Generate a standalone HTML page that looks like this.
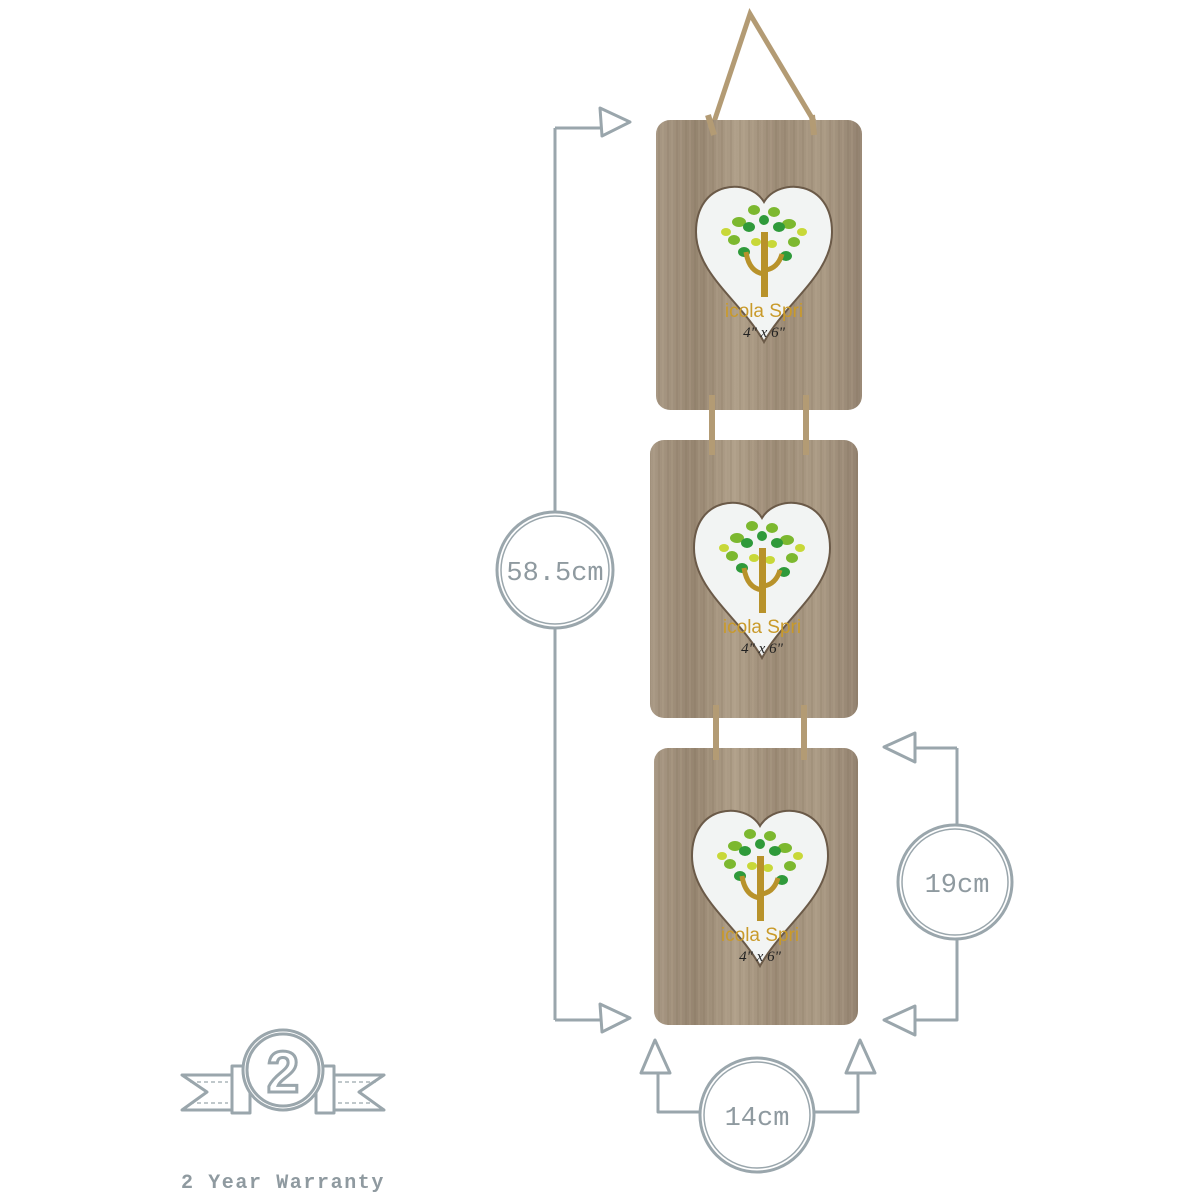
<!DOCTYPE html>
<html><head><style>
html,body{margin:0;padding:0;background:#fff;width:1200px;height:1200px;overflow:hidden}
</style></head><body>
<svg width="1200" height="1200" viewBox="0 0 1200 1200" xmlns="http://www.w3.org/2000/svg">
<defs>
<linearGradient id="wood" x1="0" y1="0" x2="1" y2="0">
<stop offset="0" stop-color="#a89884"/><stop offset="0.2" stop-color="#968570"/><stop offset="0.4" stop-color="#b0a08a"/><stop offset="0.6" stop-color="#9c8b76"/><stop offset="0.8" stop-color="#ab9b85"/><stop offset="1" stop-color="#938270"/>
</linearGradient>
<pattern id="grain" width="9" height="40" patternUnits="userSpaceOnUse">
<line x1="2" y1="0" x2="2" y2="40" stroke="#7a6852" stroke-width="1" opacity="0.3"/><line x1="6" y1="0" x2="6" y2="40" stroke="#c4b39a" stroke-width="1" opacity="0.3"/>
</pattern>
<g id="heart">
<path d="M0,-60 C-15,-85 -68,-82 -68,-30 C-68,12 -22,40 0,80 C22,40 68,12 68,-30 C68,-82 15,-85 0,-60Z" fill="#f2f4f3" stroke="#6b5a48" stroke-width="2"/>
<g fill="#7cb82f"><ellipse cx="-25" cy="-40" rx="7" ry="5"/><ellipse cx="-10" cy="-52" rx="6" ry="5"/><ellipse cx="10" cy="-50" rx="6" ry="5"/><ellipse cx="25" cy="-38" rx="7" ry="5"/><ellipse cx="-30" cy="-22" rx="6" ry="5"/><ellipse cx="30" cy="-20" rx="6" ry="5"/></g>
<g fill="#2f9a3a"><ellipse cx="-15" cy="-35" rx="6" ry="5"/><ellipse cx="15" cy="-35" rx="6" ry="5"/><ellipse cx="0" cy="-42" rx="5" ry="5"/><ellipse cx="-20" cy="-10" rx="6" ry="5"/><ellipse cx="22" cy="-6" rx="6" ry="5"/></g>
<g fill="#c8d838"><ellipse cx="-8" cy="-20" rx="5" ry="4"/><ellipse cx="8" cy="-18" rx="5" ry="4"/><ellipse cx="-38" cy="-30" rx="5" ry="4"/><ellipse cx="38" cy="-30" rx="5" ry="4"/></g>
<rect x="-3" y="-30" width="7" height="65" fill="#b8922a"/>
<path d="M-18,-10 Q-15,10 0,12 M18,-8 Q14,6 2,8" stroke="#b8922a" stroke-width="5" fill="none"/>
<text x="0" y="55" text-anchor="middle" font-family="Liberation Sans, sans-serif" font-size="19" fill="#c99a2a">icola Spri</text>
<text x="0" y="75" text-anchor="middle" font-family="Liberation Serif, serif" font-style="italic" font-size="15" fill="#222">4" x 6"</text>
</g>
</defs>
<path d="M712,128 L750,14 L818,128" stroke="#b39b74" stroke-width="5" fill="none"/>
<rect x="656" y="120" width="206" height="290" rx="14" fill="url(#wood)"/>
<rect x="656" y="120" width="206" height="290" rx="14" fill="url(#grain)"/>
<rect x="650" y="440" width="208" height="278" rx="14" fill="url(#wood)"/>
<rect x="650" y="440" width="208" height="278" rx="14" fill="url(#grain)"/>
<rect x="654" y="748" width="204" height="277" rx="14" fill="url(#wood)"/>
<rect x="654" y="748" width="204" height="277" rx="14" fill="url(#grain)"/>
<g stroke="#b39b74" stroke-width="6" fill="none">
<path d="M712,395 L712,455 M806,395 L806,455 M716,705 L716,760 M804,705 L804,760 M708,115 L714,135 M812,115 L814,135"/>
</g>
<use href="#heart" x="764" y="262"/>
<use href="#heart" x="762" y="578"/>
<use href="#heart" x="760" y="886"/>
<g stroke="#9aa6ac" stroke-width="3" fill="none" stroke-linejoin="round">
<path d="M555,128 L555,512 M555,628 L555,1020 M555,128 L600,128 M555,1020 L600,1020"/>
<polygon points="630,122 600,108 602,136"/>
<polygon points="630,1018 600,1004 602,1032"/>
<circle cx="555" cy="570" r="58"/><circle cx="555" cy="570" r="54" stroke-width="1.5"/>
<path d="M957,748 L915,748 M957,748 L957,824 M957,940 L957,1020 L915,1020"/>
<polygon points="884,747 915,733 915,762"/>
<polygon points="884,1020 915,1006 915,1035"/>
<circle cx="955" cy="882" r="57"/><circle cx="955" cy="882" r="53" stroke-width="1.5"/>
<path d="M658,1072 L658,1112 L700,1112 M814,1112 L858,1112 L858,1072"/>
<polygon points="655,1040 641,1073 670,1073"/>
<polygon points="860,1040 846,1073 875,1073"/>
<circle cx="757" cy="1115" r="57"/><circle cx="757" cy="1115" r="53" stroke-width="1.5"/>
</g>
<g font-family="Liberation Mono, monospace" fill="#8f9aa0" text-anchor="middle">
<text x="555" y="580" font-size="27">58.5cm</text>
<text x="957" y="892" font-size="27">19cm</text>
<text x="757" y="1125" font-size="27">14cm</text>
<text x="283" y="1188" font-size="20" font-weight="bold" letter-spacing="1.6">2 Year Warranty</text>
</g>
<g stroke="#9aa6ac" stroke-width="3" fill="none" stroke-linejoin="round">
<polygon points="182,1075 232,1075 232,1110 182,1110 207,1092"/>
<polygon points="384,1075 334,1075 334,1110 384,1110 359,1092"/>
<path d="M190,1082 L228,1082 M190,1103 L228,1103 M338,1082 L376,1082 M338,1103 L376,1103" stroke-width="1.2" stroke-dasharray="4 3"/>
<rect x="232" y="1066" width="18" height="47"/>
<rect x="316" y="1066" width="18" height="47"/>
<circle cx="283" cy="1070" r="40" fill="#fff"/>
<circle cx="283" cy="1070" r="36"/>
</g>
<text x="283" y="1092" text-anchor="middle" font-family="Liberation Sans, sans-serif" font-weight="bold" font-size="58" fill="#fff" stroke="#9aa6ac" stroke-width="3">2</text>
</svg>
</body></html>
